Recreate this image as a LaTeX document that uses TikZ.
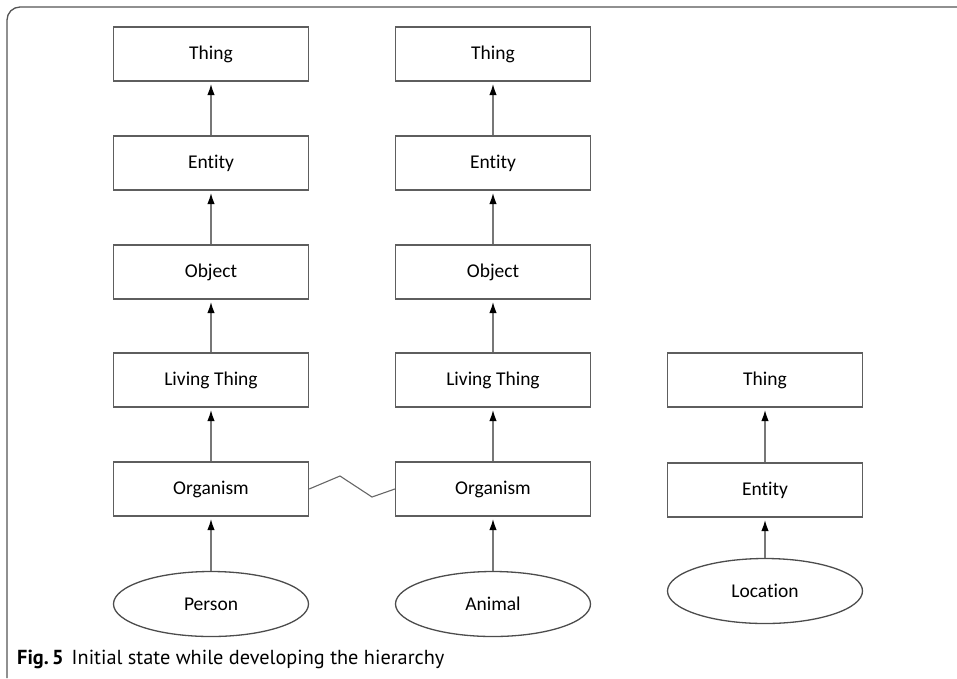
\documentclass[tikz,border=0pt]{standalone}
\usepackage{fontspec}
\setmainfont[Ligatures=NoCommon]{Carlito}
\newfontfamily\capfont{PT Sans}
\usetikzlibrary{shapes.geometric,arrows.meta}
\definecolor{boxline}{HTML}{5E5E5E}
\definecolor{arrline}{HTML}{777777}
\definecolor{frameline}{HTML}{555555}
\tikzset{
  cls/.style={draw=boxline, line width=1.3pt, minimum width=195pt, minimum height=54pt,
    inner sep=0pt, font=\fontsize{19.5}{22}\selectfont, text=black},
  inst/.style={draw=black!70, line width=1.3pt, ellipse, minimum width=195pt, minimum height=65pt,
    inner sep=0pt, font=\fontsize{19.5}{22}\selectfont, text=black},
  isa/.style={draw=arrline, line width=1.1pt, -{Latex[length=11pt,width=7.5pt,black]}, shorten >=2.5pt},
  link/.style={draw=black!60, line width=1.1pt}
}
\begin{document}
\begin{tikzpicture}[x=1pt,y=-1pt]
\useasboundingbox (0,0) rectangle (957,678);
% outer frame: top and left edges with a rounded corner
\draw[frameline, line width=1.3pt, rounded corners=13pt] (7,678) -- (7,7) -- (957,7);

% left hierarchy
\node[cls] (t1) at (211,54) {Thing};
\node[cls] (e1) at (211,163) {Entity};
\node[cls] (o1) at (211,272) {Object};
\node[cls] (l1) at (211,380) {Living Thing};
\node[cls] (g1) at (211,489) {Organism};
\node[inst] (p) at (211,604) {Person};

% middle hierarchy
\node[cls] (t2) at (493,54) {Thing};
\node[cls] (e2) at (493,163) {Entity};
\node[cls] (o2) at (493,272) {Object};
\node[cls] (l2) at (493,380) {Living Thing};
\node[cls] (g2) at (493,489) {Organism};
\node[inst] (a) at (493,604) {Animal};

% right hierarchy
\node[cls] (t3) at (765,380) {Thing};
\node[cls] (e3) at (765,490) {Entity};
\node[inst] (loc) at (765,591) {Location};

% subclass arrows
\foreach \lo/\hi in {e1/t1,o1/e1,l1/o1,g1/l1,p/g1,e2/t2,o2/e2,l2/o2,g2/l2,a/g2,e3/t3,loc/e3}
  \draw[isa] (\lo.north) -- (\hi.south);

% zig-zag link between the two organism classes
\coordinate (z1) at (340,476);
\coordinate (z2) at (372,497);
\draw[link] (g1.east) -- (z1) -- (z2) -- (g2.west);

% caption
\node[anchor=base west, inner sep=0pt, font=\capfont\fontsize{20.3}{24}\selectfont] (cap) at (17,664)
  {\textbf{Fig.\,5}\hspace{8pt}Initial state while developing the hierarchy};
\end{tikzpicture}
\end{document}
